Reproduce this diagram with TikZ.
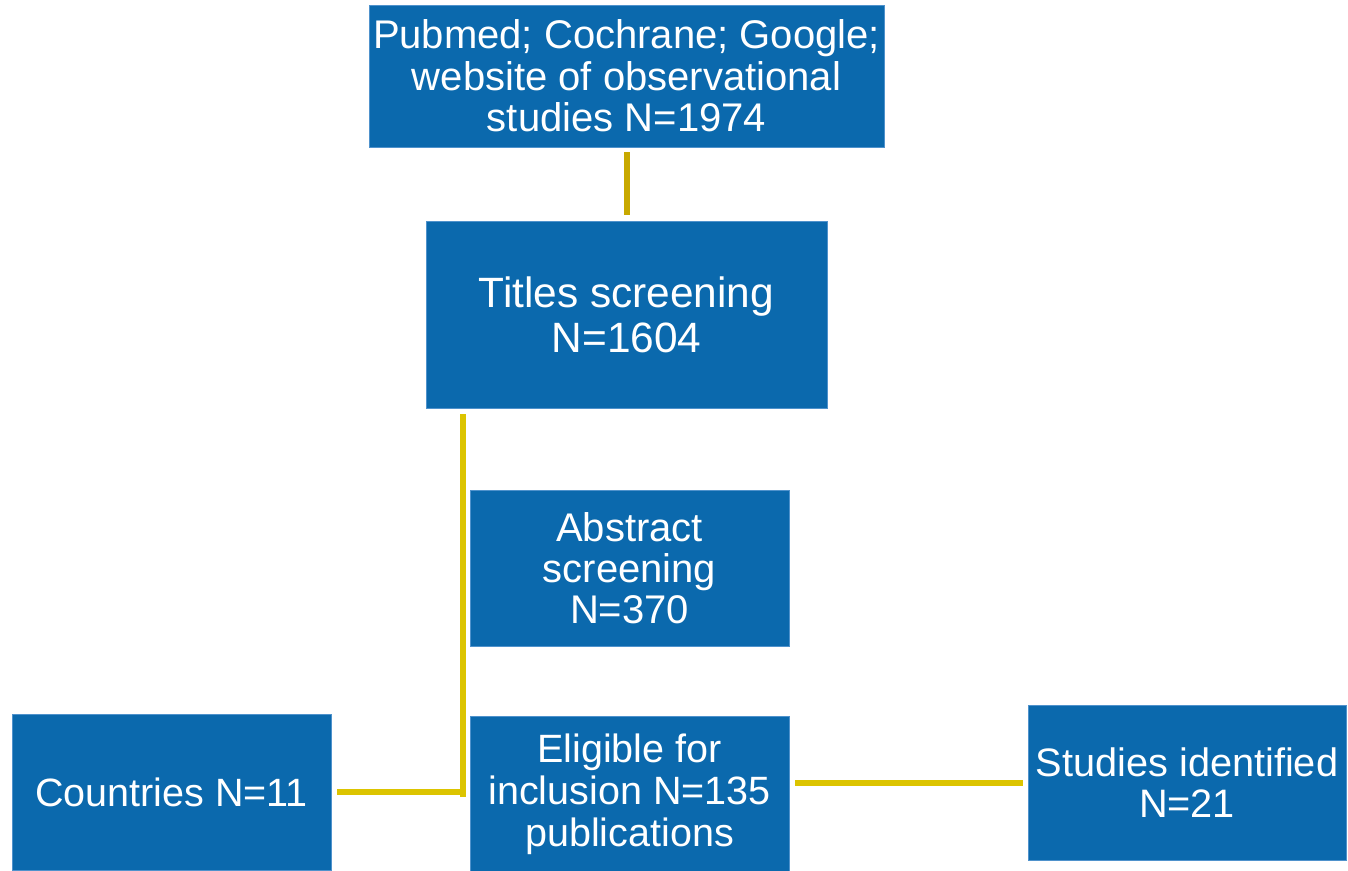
\documentclass[tikz,border=0pt]{standalone}
\usepackage{fontspec}
\setmainfont{Liberation Sans}
\definecolor{boxblue}{HTML}{0B69AD}
\definecolor{boxedge}{HTML}{4F92CC}
\definecolor{goldA}{HTML}{C8A900}
\definecolor{goldB}{HTML}{DCC400}
\tikzset{
  box/.style={fill=boxblue, draw=boxedge, line width=0.8pt, text=white, align=center, inner sep=0pt},
  conn/.style={line width=6pt, draw=goldB},
}
\begin{document}
\begin{tikzpicture}[x=1pt,y=-1pt]
\useasboundingbox (0,0) rectangle (1348,870);
\fill[white] (0,0) rectangle (1348,870);
% boxes: center at ((x1+x2)/2,(y1+y2)/2)
\node[box, minimum width=515pt, minimum height=142pt, font=\fontsize{40}{41.5}\selectfont]
  (src) at (626.5,76) {Pubmed; Cochrane; Google;\\website of observational\\studies N=1974};
\node[box, minimum width=401pt, minimum height=187pt, font=\fontsize{42.4}{45}\selectfont]
  (titles) at (626.5,314.5) {Titles screening\\N=1604};
\node[box, minimum width=319pt, minimum height=156pt, font=\fontsize{40}{41}\selectfont]
  (abstract) at (629.5,568) {Abstract\\screening\\N=370};
\node[box, minimum width=319pt, minimum height=156pt, font=\fontsize{39.5}{42}\selectfont]
  (eligible) at (629.5,794) {Eligible for\\inclusion N=135\\publications};
\node[box, minimum width=319pt, minimum height=156pt, font=\fontsize{39.5}{41}\selectfont]
  (countries) at (171.5,792) {Countries N=11};
\node[box, minimum width=318pt, minimum height=155pt, font=\fontsize{39.7}{41}\selectfont]
  (studies) at (1187,782.5) {Studies identified\\N=21};
% connectors
\draw[conn, draw=goldA, shorten <=5pt, shorten >=6pt] (src.south) -- (titles.north);
\coordinate (vtop) at (463,414);
\coordinate (vbot) at (463,797);
\draw[conn] (vtop) -- (vbot);
\draw[conn, shorten <=6pt] (countries.east) -- (countries.east -| vtop);
\draw[conn, shorten <=6pt, shorten >=5pt] (studies.west -| eligible.east) -- (studies.west);
\end{tikzpicture}
\end{document}
